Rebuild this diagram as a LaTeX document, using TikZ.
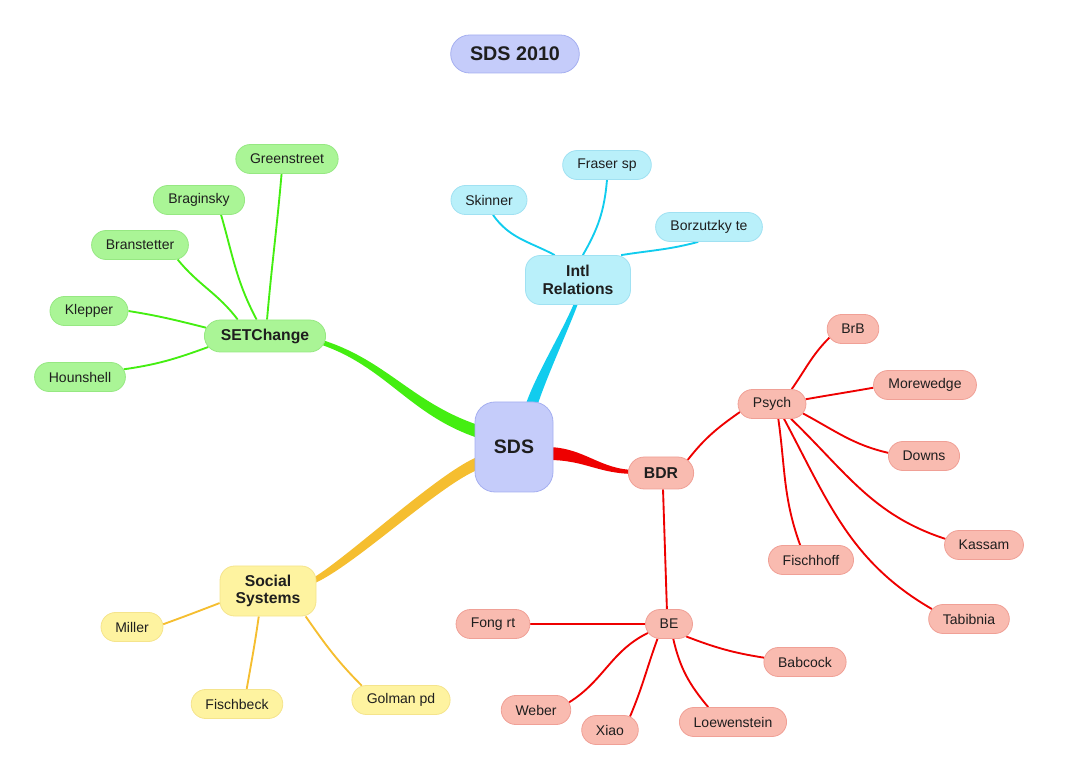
\documentclass[tikz,border=0pt]{standalone}
\usepackage{fontspec}
\setmainfont{Liberation Sans}
\usetikzlibrary{shapes.misc,calc,backgrounds}
\definecolor{textgrey}{RGB}{30,30,30}
\definecolor{sdsfill}{RGB}{197,204,250}
\definecolor{sdsdraw}{RGB}{165,175,240}
\definecolor{setfill}{RGB}{170,245,150}
\definecolor{setdraw}{RGB}{150,232,130}
\definecolor{setline}{RGB}{68,238,17}
\definecolor{intlfill}{RGB}{185,240,250}
\definecolor{intldraw}{RGB}{160,225,242}
\definecolor{intlline}{RGB}{17,204,238}
\definecolor{socfill}{RGB}{254,243,160}
\definecolor{socdraw}{RGB}{245,228,140}
\definecolor{socline}{RGB}{245,190,48}
\definecolor{bdrfill}{RGB}{249,187,176}
\definecolor{bdrdraw}{RGB}{240,160,150}
\definecolor{bdrline}{RGB}{238,0,0}

\begin{document}
\begin{tikzpicture}[x=0.75pt,y=0.75pt,
	leaf/.style={rounded rectangle,inner xsep=10pt,minimum height=21.75pt,line width=0.6pt,text=textgrey,font=\fontsize{10.5}{12}\selectfont},
	hub/.style={rounded rectangle,inner xsep=11pt,minimum height=24pt,line width=0.6pt,text=textgrey,font=\fontsize{11.8}{13}\selectfont\bfseries},
	twoline/.style={rectangle,rounded corners=11pt,align=center,line width=0.6pt,text=textgrey,font=\fontsize{11.8}{13}\selectfont\bfseries},
	gnode/.style={fill=setfill,draw=setdraw},
	cnode/.style={fill=intlfill,draw=intldraw},
	ynode/.style={fill=socfill,draw=socdraw},
	rnode/.style={fill=bdrfill,draw=bdrdraw},
	glink/.style={draw=setline,line width=1.4pt},
	clink/.style={draw=intlline,line width=1.4pt},
	ylink/.style={draw=socline,line width=1.4pt},
	rlink/.style={draw=bdrline,line width=1.4pt}]
	\useasboundingbox (0,0) rectangle (1076,-784);

	\node[rounded rectangle,inner xsep=13.5pt,minimum height=28.5pt,fill=sdsfill,draw=sdsdraw,line width=0.6pt,text=textgrey,font=\fontsize{14.8}{16}\selectfont\bfseries] (title) at (515,-54) {SDS 2010};
	\node[rectangle,rounded corners=15pt,minimum width=58.5pt,minimum height=67.5pt,fill=sdsfill,draw=sdsdraw,line width=0.6pt,text=textgrey,font=\fontsize{14.6}{16}\selectfont\bfseries] (sds) at (514,-447) {SDS};

	\node[hub,gnode] (set) at (265,-336) {SETChange};
	\node[twoline,cnode,minimum width=78.75pt,minimum height=36.75pt] (intl) at (578,-280) {Intl\\Relations};
	\node[twoline,ynode,minimum width=72pt,minimum height=37.5pt] (soc) at (268,-591) {Social\\Systems};
	\node[hub,rnode] (bdr) at (661,-473) {BDR};

	\node[leaf,gnode] (gst) at (287,-159) {Greenstreet};
	\node[leaf,gnode] (brag) at (199,-200) {Braginsky};
	\node[leaf,gnode] (bran) at (140,-245) {Branstetter};
	\node[leaf,gnode] (klep) at (89,-311) {Klepper};
	\node[leaf,gnode] (hou) at (80,-377) {Hounshell};

	\node[leaf,cnode] (skin) at (489,-200) {Skinner};
	\node[leaf,cnode] (fra) at (607,-165) {Fraser sp};
	\node[leaf,cnode] (borz) at (709,-227) {Borzutzky te};

	\node[leaf,ynode] (mil) at (132,-627) {Miller};
	\node[leaf,ynode] (fisb) at (237,-704) {Fischbeck};
	\node[leaf,ynode] (gol) at (401,-700) {Golman pd};

	\node[leaf,rnode] (psy) at (772,-404) {Psych};
	\node[leaf,rnode] (brb) at (853,-329) {BrB};
	\node[leaf,rnode] (mor) at (925,-385) {Morewedge};
	\node[leaf,rnode] (dow) at (924,-456) {Downs};
	\node[leaf,rnode] (kas) at (984,-545) {Kassam};
	\node[leaf,rnode] (tab) at (969,-619) {Tabibnia};
	\node[leaf,rnode] (fis) at (811,-560) {Fischhoff};
	\node[leaf,rnode] (be) at (669,-624) {BE};
	\node[leaf,rnode] (fong) at (493,-624) {Fong rt};
	\node[leaf,rnode] (bab) at (805,-662) {Babcock};
	\node[leaf,rnode] (web) at (536,-710) {Weber};
	\node[leaf,rnode] (xiao) at (610,-730) {Xiao};
	\node[leaf,rnode] (loe) at (733,-722) {Loewenstein};

	\begin{scope}[on background layer]
		% main branches, thick at the centre
		\fill[setline] ($(sds.west)+(5,21.5)$) .. controls +(-68,22.5) and +(67,-20) .. ($(set.east)+(-7,-3)$) -- ($(set.east)+(-7,-8)$) .. controls +(67,-22) and +(-70,22.5) .. ($(sds.west)+(5,8.5)$) -- cycle;
		\fill[intlline] ($(sds.north)+(11,-5)$) .. controls +(10,31) and +(-12,-30) .. ($(intl.south)+(-3,4)$) -- ($(intl.south)+(1,4)$) .. controls +(-11,-30) and +(10,31) .. ($(sds.north)+(23,-5)$) -- cycle;
		\fill[bdrline] ($(sds.east)+(-5,0)$) .. controls +(37,-1) and +(-36,0) .. ($(bdr.west)+(8,3)$) -- ($(bdr.west)+(8,-1)$) .. controls +(-38,0) and +(37,0) .. ($(sds.east)+(-5,-13)$) -- cycle;
		\fill[socline] ($(sds.west)+(5,-9)$) .. controls +(-40,-15) and +(35,19.5) .. ($(soc.east)+(-6,11.5)$) -- ($(soc.east)+(-6,6)$) .. controls +(40,15) and +(-40,-15) .. ($(sds.west)+(5,-22)$) -- cycle;

		\draw[glink] (set.83) to[out=85,in=265] (gst.250);
		\draw[glink] (set.117) to[out=118,in=286] (brag.-34);
		\draw[glink] (set.149) to[out=127,in=309] (bran.-21);
		\draw[glink] (set.172) to[out=166,in=351] (klep.east);
		\draw[glink] (set.191) to[out=200,in=8] (hou.10);

		\draw[clink] (intl.133) to[out=152,in=305] (skin.-75);
		\draw[clink] (intl.79) to[out=60,in=265] (fra.south);
		\draw[clink] (intl.30) to[out=9,in=195] (borz.234);

		\draw[ylink] (soc.194) to[out=201,in=20] (mil.5);
		\draw[ylink] (soc.250) to[out=262,in=80] (fisb.57);
		\draw[ylink] (soc.-34) to[out=305,in=135] (gol.160);

		\draw[rlink] (bdr.26) to[out=52,in=215] (psy.194);
		\draw[rlink] (bdr.-83) -- (be.98);
		\draw[rlink] (psy.37) to[out=55,in=225] (brb.200);
		\draw[rlink] (psy.8) to[out=10,in=190] (mor.183);
		\draw[rlink] (psy.-17) to[out=-28,in=167] (dow.175);
		\draw[rlink] (psy.-38) to[out=-44,in=162] (kas.171);
		\draw[rlink] (psy.-51) to[out=-62,in=150] (tab.165);
		\draw[rlink] (psy.-67) to[out=-82,in=110] (fis.126);
		\draw[rlink] (be.west) -- (fong.east);
		\draw[rlink] (be.-36) to[out=-21,in=171] (bab.174);
		\draw[rlink] (be.203) to[out=206,in=32] (web.13);
		\draw[rlink] (be.232) to[out=250,in=67] (xiao.34);
		\draw[rlink] (be.-74) to[out=-77,in=130] (loe.149);
	\end{scope}
\end{tikzpicture}
\end{document}
